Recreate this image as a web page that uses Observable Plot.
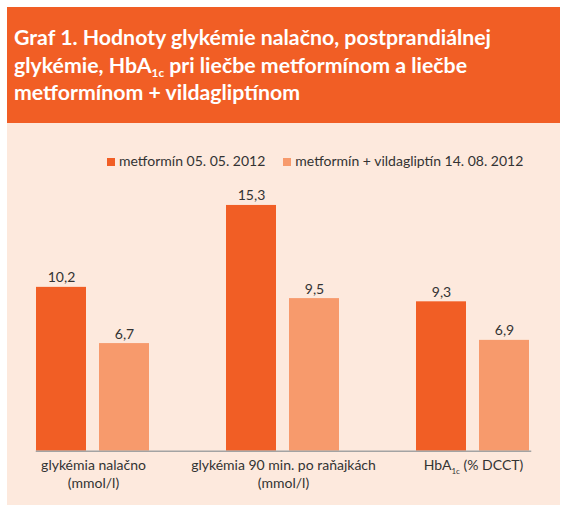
<!DOCTYPE html>
<html>
<head>
<meta charset="utf-8">
<script src="https://cdn.jsdelivr.net/npm/d3@7"></script>
<script src="https://cdn.jsdelivr.net/npm/@observablehq/plot@0.6"></script>
<style>
  html, body { margin: 0; padding: 0; background: #ffffff; }
  #page { position: relative; width: 562px; height: 506px; overflow: hidden; font-family: Lato, "Open Sans", sans-serif; }
  #titlebox { position: absolute; left: 7px; top: 7px; width: 553px; height: 116px; background: #F15E25; }
  #title { position: absolute; left: 7px; top: 17px; color: #ffffff; font-weight: 700; font-size: 21.3px; white-space: nowrap; }
  #title .ln { display: block; height: 27.7px; line-height: 27.7px; overflow: visible; }
  #title .sub { font-size: 0.55em; position: relative; top: 0.35em; line-height: 0; }
  #cream { position: absolute; left: 7px; top: 123px; width: 553px; height: 382px; background: #FDE9DD; }
  #legend { position: absolute; left: 107px; top: 153px; font-size: 14px; line-height: 16px; color: #333333; white-space: nowrap; display: flex; }
  #legend .item { display: flex; align-items: center; margin-right: 18px; }
  #legend .sw { display: inline-block; width: 8px; height: 8px; margin-right: 4px; position: relative; top: 1px; }
  #chart { position: absolute; left: 0; top: 130px; }
</style>
</head>
<body>
<div id="page">
  <div id="titlebox"><div id="title"><span class="ln">Graf 1. Hodnoty glykémie nalačno, postprandiálnej</span><span class="ln">glykémie, HbA<span class="sub">1c</span> pri liečbe metformínom a liečbe</span><span class="ln">metformínom + vildagliptínom</span></div></div>
  <div id="cream"></div>
  <div id="legend"></div>
  <div id="chart"></div>
</div>
<script>
const categories = ["glykémia nalačno\n(mmol/l)", "glykémia 90 min. po raňajkách\n(mmol/l)", "HbA1c (% DCCT)"];
const series = ["metformín 05. 05. 2012", "metformín + vildagliptín 14. 08. 2012"];
const metforminValues = [10.2, 15.3, 9.3];
const comboValues = [6.7, 9.5, 6.9];
const colors = ["#F15E25", "#F79A6C"];

const data = [];
categories.forEach((c, i) => {
  data.push({category: c, series: series[0], value: metforminValues[i]});
  data.push({category: c, series: series[1], value: comboValues[i]});
});

// legend
const legend = document.getElementById("legend");
series.forEach((s, i) => {
  const item = document.createElement("span");
  item.className = "item";
  const sw = document.createElement("span");
  sw.className = "sw";
  sw.style.background = colors[i];
  item.appendChild(sw);
  item.appendChild(document.createTextNode(s));
  legend.appendChild(item);
});

const fmt = v => v.toFixed(1).replace(".", ",");

const chart = Plot.plot({
  width: 562,
  height: 375,
  marginLeft: 18,
  marginRight: 14,
  marginTop: 63.7,
  marginBottom: 54.3,
  style: {background: "transparent", fontFamily: "Lato, 'Open Sans', sans-serif", fontSize: "14px", color: "#333333"},
  fx: {domain: categories, paddingInner: 0.402, paddingOuter: 0.089, axis: null, label: null},
  x: {domain: series, paddingInner: 0.203, paddingOuter: 0, axis: null},
  y: {domain: [0, 16], axis: null},
  color: {domain: series, range: colors},
  marks: [
    Plot.barY(data, {fx: "category", x: "series", y: "value", fill: "series"}),
    Plot.text(data, {fx: "category", x: "series", y: "value", text: d => fmt(d.value), lineAnchor: "bottom", dy: -5, fill: "#333333", fontSize: 14}),
    Plot.frame({anchor: "bottom", facet: "super", stroke: "#A3A3A3", strokeWidth: 1.5}),
    Plot.text(categories, {fx: d => d, text: d => d, frameAnchor: "bottom", lineAnchor: "top", dy: 6.3, lineHeight: 1.29, fill: "#333333", fontSize: 14})
  ]
});
document.getElementById("chart").appendChild(chart);

// subscript for HbA1c in tick label
chart.querySelectorAll("text, tspan").forEach(t => {
  if (t.childElementCount === 0 && t.textContent === "HbA1c (% DCCT)") {
    t.textContent = "";
    const ns = "http://www.w3.org/2000/svg";
    const a = document.createElementNS(ns, "tspan"); a.textContent = "HbA";
    const b = document.createElementNS(ns, "tspan"); b.textContent = "1c"; b.setAttribute("font-size", "8"); b.setAttribute("dy", "4");
    const c = document.createElementNS(ns, "tspan"); c.textContent = " (% DCCT)"; c.setAttribute("dy", "-4");
    t.appendChild(a); t.appendChild(b); t.appendChild(c);
  }
});
</script>
</body>
</html>
